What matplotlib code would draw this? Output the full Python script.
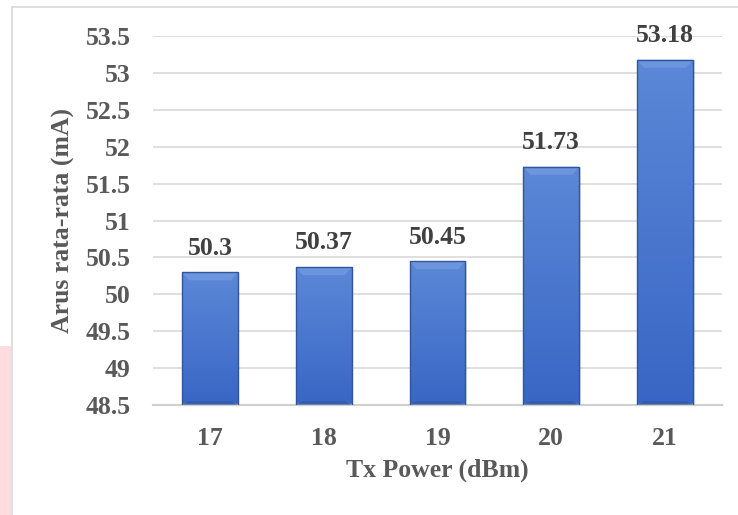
import matplotlib
matplotlib.use("Agg")
import matplotlib.pyplot as plt
import numpy as np
from matplotlib.patches import Rectangle, Polygon
from matplotlib.colors import LinearSegmentedColormap

tx_power = ["17", "18", "19", "20", "21"]
arus = [50.3, 50.37, 50.45, 51.73, 53.18]
y_ticks = [48.5, 49, 49.5, 50, 50.5, 51, 51.5, 52, 52.5, 53, 53.5]

plt.rcParams['font.family'] = ['Liberation Serif', 'DejaVu Serif']
text_color = "#595959"
fs = 18.5

W, H = 738, 515
fig = plt.figure(figsize=(W / 100, H / 100), dpi=100)
fig.patch.set_facecolor("white")

# pink strip on the far left and the chart frame
fig.patches.append(Rectangle((0, 0), 11 / W, (515 - 346) / H, transform=fig.transFigure,
                             facecolor="#ffdcdf", edgecolor="none", zorder=-2))
fig.patches.append(Rectangle((12 / W, -0.05), 1.2, (515 - 7) / H + 0.05, transform=fig.transFigure,
                             facecolor="white", edgecolor="#d9d9d9", linewidth=1.2, zorder=-1))

ax = fig.add_axes([153 / W, (515 - 405) / H, (722 - 153) / W, (405 - 36) / H])
ax.set_facecolor("none")
ax.set_yticks(y_ticks)
ax.set_yticklabels([f"{t:g}" for t in y_ticks])
ax.set_xticks(range(len(tx_power)))
ax.set_xticklabels(tx_power)
for name, s in ax.spines.items():
    s.set_visible(name == "bottom")
ax.spines["bottom"].set_color("#d0d0d0")
ax.spines["bottom"].set_linewidth(1.6)
ax.tick_params(length=0, labelsize=fs, labelcolor=text_color)
ax.tick_params(axis="y", pad=16)
ax.tick_params(axis="x", pad=16)
for lab in ax.get_xticklabels() + ax.get_yticklabels():
    lab.set_fontweight("bold")
ax.grid(axis="y", color="#d9d9d9", linewidth=1.2, zorder=0)
ax.set_axisbelow(True)

ax.set_ylabel("Arus rata-rata (mA)", fontsize=fs, fontweight="bold", color=text_color)
ax.set_xlabel("Tx Power (dBm)", fontsize=fs, fontweight="bold", color=text_color)
ax.yaxis.set_label_coords((63 - 153) / (722 - 153), 0.5)
ax.xaxis.set_label_coords(0.5, -(470 - 405) / (405 - 36))
ax.xaxis.label.set_va("center")
ax.yaxis.label.set_va("center")

bar_w = 0.49
base = y_ticks[0]
grad = np.linspace(0, 1, 256).reshape(-1, 1)
cmap = LinearSegmentedColormap.from_list("barblue", ["#3966c4", "#5c88d8"])

bars = ax.bar(range(len(arus)), [v - base for v in arus], bottom=base, width=bar_w,
              color="none", edgecolor="#2f559e", linewidth=1.0, zorder=3)
for i, (b, v) in enumerate(zip(bars, arus)):
    x0 = i - bar_w / 2
    x1 = i + bar_w / 2
    # soft shadow
    ax.add_patch(Rectangle((x0 + 0.015, base), bar_w, v - base, facecolor="#000000",
                           alpha=0.12, edgecolor="none", zorder=2))
    im = ax.imshow(grad, extent=[x0, x1, base, v], origin="lower", cmap=cmap,
                   aspect="auto", zorder=2.5, interpolation="bilinear")
    im.set_clip_path(b)
    # bevel highlight at the top and darker base edge
    dy = 0.11
    dx = 0.06
    ax.add_patch(Polygon([[x0, v], [x1, v], [x1 - dx, v - dy], [x0 + dx, v - dy]],
                         closed=True, facecolor="#7aa0e4", alpha=0.6, edgecolor="none", zorder=2.7))
    ax.add_patch(Polygon([[x0, base], [x1, base], [x1 - dx, base + 0.05], [x0 + dx, base + 0.05]],
                         closed=True, facecolor="#2d5299", alpha=0.5, edgecolor="none", zorder=2.7))
    ax.annotate(f"{v:g}", (i, v), xytext=(0, 9), textcoords="offset points",
                ha="center", va="bottom", fontsize=fs, fontweight="bold", color="#404040", zorder=4)

ax.set_xlim(-0.5, len(tx_power) - 0.5)
ax.set_ylim(y_ticks[0], y_ticks[-1])

fig.savefig("out.png", dpi=100)
